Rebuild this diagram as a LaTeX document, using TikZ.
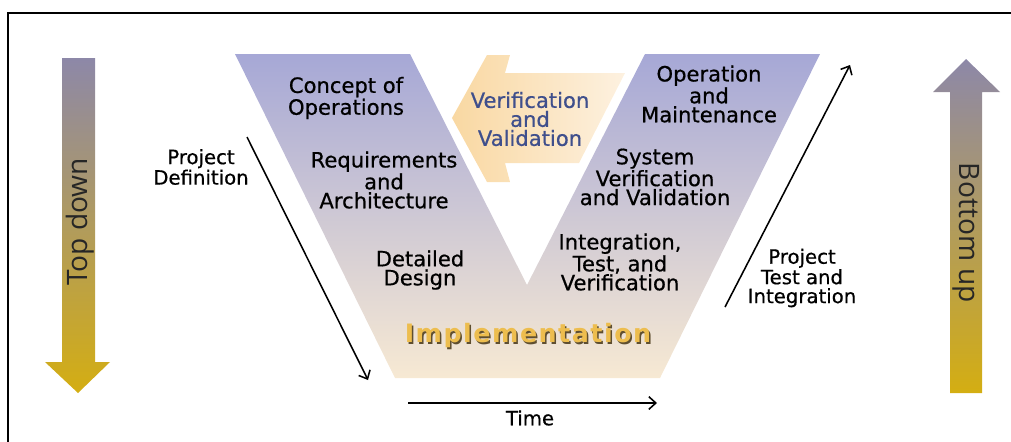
\documentclass[tikz,border=0pt]{standalone}
\usepackage{fontspec}
\setmainfont{DejaVu Sans}[FakeBold=0.6]
\newfontfamily\sidefont{Open Sans}
\newfontfamily\implfont[LetterSpace=6]{DejaVu Sans}
\usepackage{xcolor}
\usetikzlibrary{arrows,arrows.meta,positioning}
\definecolor{vtop}{HTML}{A6A8D6}
\definecolor{vbot}{HTML}{F7E9D3}
\definecolor{vvleft}{HTML}{F9D8A2}
\definecolor{vvright}{HTML}{FDF1E0}
\definecolor{vvtext}{HTML}{3F4F8C}
\definecolor{arrtop}{HTML}{8D88A8}
\definecolor{arrbot}{HTML}{D4AE12}
\definecolor{gold}{HTML}{EDBD4E}
\definecolor{goldshadow}{HTML}{5E4E30}

\begin{document}
\begin{tikzpicture}[x=0.025cm,y=-0.025cm,>={Straight Barb[length=5pt,width=9pt]},node distance=6pt,
        phase/.style={align=center,inner sep=0pt,font=\fontsize{15}{13.5}\selectfont},
        side/.style={align=center,inner sep=0pt,font=\fontsize{14}{13.5}\selectfont},
        bigarrow/.style={top color=arrtop,bottom color=arrbot,draw=none},
        flow/.style={->,line width=1.1pt}]
        \useasboundingbox (0,0) rectangle (1011,441);
        \draw[line width=1.4pt] (8,13) rectangle (1020,450);
        % the V
        \shade[top color=vtop,bottom color=vbot] (235,54) -- (410,54) -- (527,285) -- (645,54)
                -- (820,54) -- (660,378) -- (395,378) -- cycle;
        % verification arrow
        \shade[left color=vvleft,right color=vvright] (452,118) -- (487,55) -- (510,55) -- (505,73)
                -- (625,73) -- (579,163) -- (505,163) -- (510,182) -- (487,182) -- cycle;
        % side arrows
        \path[bigarrow] (62,58) -- (95,58) -- (95,362) -- (110,362) -- (78,393) -- (45,362) -- (62,362) -- cycle;
        \path[bigarrow] (950,393) -- (982,393) -- (982,92) -- (1000,92) -- (966,59) -- (933,92) -- (950,92) -- cycle;
        \node[rotate=90,font=\sidefont\fontsize{20}{20}\selectfont,text=black!85] (down) at (80,222) {Top down};
        \node[rotate=-90,font=\sidefont\fontsize{20}{20}\selectfont,text=black!85] (up) at (966,233) {Bottom up};
        % phases
        \node[phase] (conops) at (346,98) {Concept of\\Operations};
        \node[phase] (req) at (384,180) {Requirements\\and\\Architecture};
        \node[phase] (design) at (420,270) {Detailed\\Design};
        \node[phase,text=vvtext] (vv) at (530,119) {Verification\\and\\Validation};
        \node[phase] (om) at (709,94) {Operation\\and\\Maintenance};
        \node[phase] (sysvv) at (655,177) {System\\Verification\\and Validation};
        \node[phase] (itv) at (620,262) {Integration,\\Test, and\\Verification};
        \node[font=\implfont\bfseries\fontsize{18}{18}\selectfont,text=goldshadow] (implsh) at (529.5,337.5) {Implementation};
        \node[font=\implfont\bfseries\fontsize{18}{18}\selectfont,text=gold] (impl) at (528,336) {Implementation};
        % time and project arrows
        \coordinate (pd1) at (247,137);
        \coordinate (pd2) at (368,380);
        \coordinate (pt1) at (725,307);
        \coordinate (pt2) at (850,65);
        \coordinate (t1) at (408,403);
        \coordinate (t2) at (657,403);
        \coordinate (tmid) at (530,403);
        \draw[flow] (pd1) -- (pd2);
        \draw[flow] (pt1) -- (pt2);
        \draw[flow] (t1) -- (t2);
        \node[side] (def) at (201,167) {Project\\Definition};
        \node[side] (testint) at (802,278) {Project\\Test and\\Integration};
        \node[side] (time) [below=5pt of tmid] {Time};
\end{tikzpicture}
\end{document}
